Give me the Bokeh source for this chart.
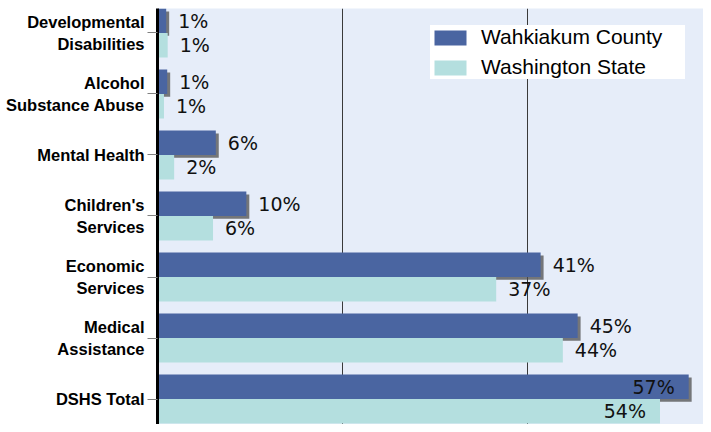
from bokeh.plotting import figure
from bokeh.models import (ColumnDataSource, Range1d, FixedTicker, Grid, Legend,
                          LegendItem)
from bokeh.core.properties import value
from bokeh.embed import file_html
from bokeh.resources import INLINE

categories = ["Developmental\nDisabilities", "Alcohol\nSubstance Abuse", "Mental Health",
              "Children's\nServices", "Economic\nServices", "Medical\nAssistance", "DSHS Total"]
county = [0.94, 1.05, 6.3, 9.6, 41.4, 45.4, 57.4]
state = [1.1, 0.7, 1.8, 6.0, 36.6, 43.8, 54.3]
series_names = ["Wahkiakum County", "Washington State"]

COUNTY_COLOR = "#4a65a1"
STATE_COLOR = "#b4dfdf"
BG = "#e6edf9"

n = len(categories)
idx = list(range(n))
bar_h = 0.4

p = figure(width=703, height=424, output_backend="svg", toolbar_location=None,
           x_range=Range1d(0, 59.0), y_range=Range1d(6.418, -0.4016),
           x_axis_location=None, min_border_left=157, min_border_right=0,
           min_border_top=8, min_border_bottom=0)
p.background_fill_color = BG
p.border_fill_color = "white"
p.outline_line_color = None
p.xgrid.visible = False
p.ygrid.visible = False

grid = Grid(dimension=0, ticker=FixedTicker(ticks=[20, 40]),
            grid_line_color="#3a3a3a", grid_line_width=1)
p.add_layout(grid)

cy = [i - bar_h / 2 for i in idx]
sy = [i + bar_h / 2 for i in idx]

# drop shadow for county bars
dx, dy = 0.32, 0.046
p.hbar(y=[v + dy for v in cy], left=[dx] * n, right=[v + dx for v in county], height=bar_h,
       fill_color="#4d4d4d", fill_alpha=0.75, line_color=None)
r_county = p.hbar(y=cy, left=0, right=county, height=bar_h,
                  fill_color=COUNTY_COLOR, line_color=None)
r_state = p.hbar(y=sy, left=0, right=state, height=bar_h,
                 fill_color=STATE_COLOR, line_color=None)

def label_src(vals, ys):
    inside = [v > 50 for v in vals]
    return ColumnDataSource(dict(
        x=vals, y=ys, t=[f"{round(v)}%" for v in vals],
        align=["right" if i else "left" for i in inside],
        off=[-14 if i else 12 for i in inside]))

for vals, ys in ((county, cy), (state, sy)):
    p.text(x="x", y="y", text="t", source=label_src(vals, ys), x_offset="off",
           text_align="align", text_baseline="middle", text_color="#111111",
           text_font=value("DejaVu Sans"), text_font_size="19px")

ax = p.yaxis[0]
ax.ticker = FixedTicker(ticks=idx)
ax.major_label_overrides = {i: c for i, c in zip(idx, categories)}
ax.minor_tick_line_color = None
ax.major_tick_in = 0
ax.major_tick_out = 10
ax.major_tick_line_color = "#808080"
ax.major_label_standoff = 3
ax.axis_line_color = "black"
ax.axis_line_width = 3
ax.major_label_text_font = "Liberation Sans"
ax.major_label_text_font_style = "bold"
ax.major_label_text_font_size = "16.5px"
ax.major_label_text_color = "black"

legend = Legend(items=[LegendItem(label=series_names[0], renderers=[r_county]),
                       LegendItem(label=series_names[1], renderers=[r_state])],
                location=(273, 345), margin=0, padding=17, spacing=6,
                glyph_width=40, glyph_height=19, label_standoff=11, label_width=204,
                label_text_font="Liberation Sans", label_text_font_size="21px",
                label_text_color="black", background_fill_color="white",
                background_fill_alpha=1.0, border_line_color=None)
p.add_layout(legend)

open("out.html", "w").write(file_html(p, INLINE))
